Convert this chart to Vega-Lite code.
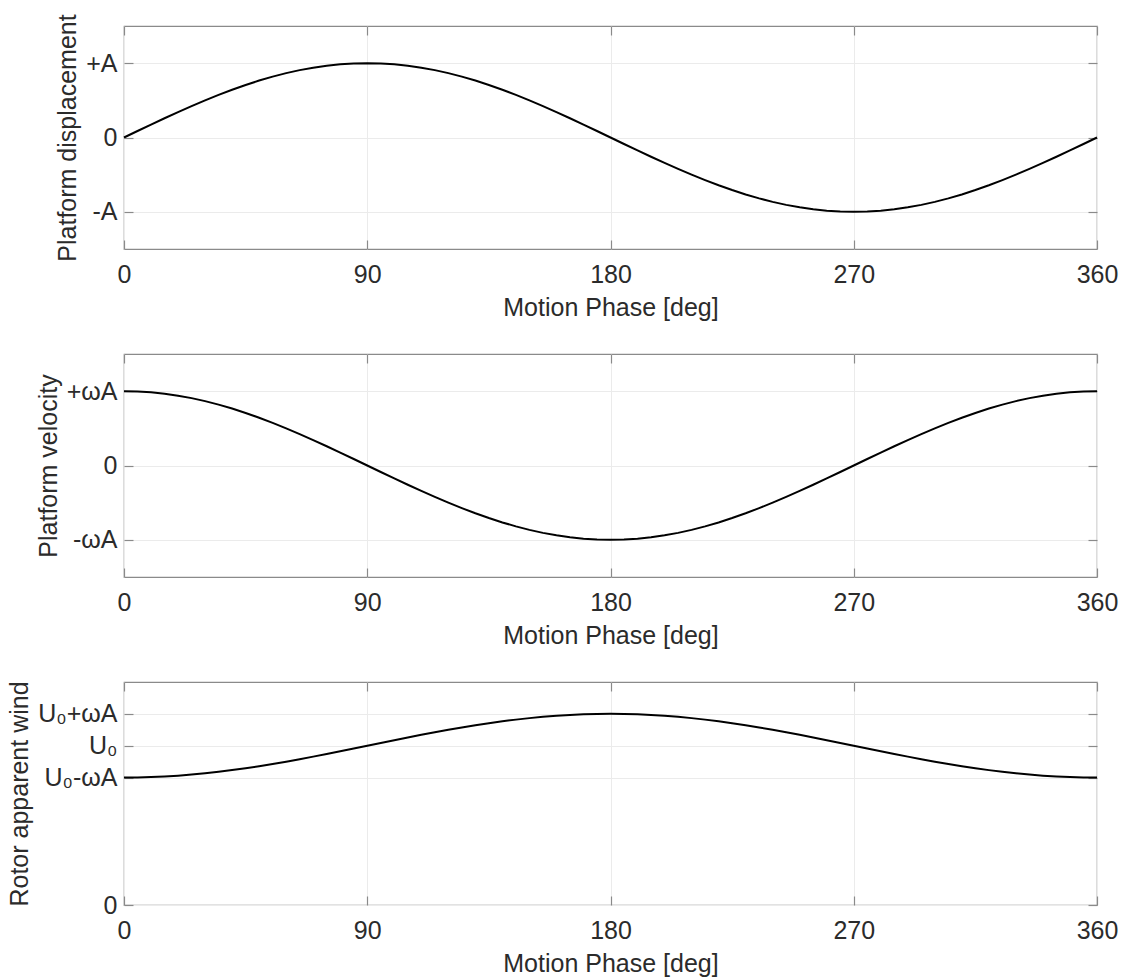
{
  "$schema": "https://vega.github.io/schema/vega-lite/v6.json",
  "padding": {"left": 7, "top": 13, "right": 23, "bottom": 0},
  "spacing": 31,
  "config": {
    "font": "Liberation Sans",
    "view": {"stroke": "#8a8a8a", "strokeWidth": 1.2},
    "axis": {
      "labelFont": "Liberation Sans",
      "labelFontSize": 25,
      "labelColor": "#2b2b2b",
      "titleFont": "Liberation Sans",
      "titleFontSize": 25,
      "titleFontWeight": "normal",
      "titleColor": "#2b2b2b",
      "gridColor": "#ebebeb",
      "gridWidth": 1,
      "tickColor": "#8a8a8a",
      "tickWidth": 1.2,
      "tickSize": -9,
      "domain": false
    }
  },
  "datasets": {
    "s": [
      {"p": 0, "d": 0, "v": 1, "w": 0.8},
      {"p": 5, "d": 0.0872, "v": 0.9962, "w": 0.8008},
      {"p": 10, "d": 0.1736, "v": 0.9848, "w": 0.803},
      {"p": 15, "d": 0.2588, "v": 0.9659, "w": 0.8068},
      {"p": 20, "d": 0.342, "v": 0.9397, "w": 0.8121},
      {"p": 25, "d": 0.4226, "v": 0.9063, "w": 0.8187},
      {"p": 30, "d": 0.5, "v": 0.866, "w": 0.8268},
      {"p": 35, "d": 0.5736, "v": 0.8192, "w": 0.8362},
      {"p": 40, "d": 0.6428, "v": 0.766, "w": 0.8468},
      {"p": 45, "d": 0.7071, "v": 0.7071, "w": 0.8586},
      {"p": 50, "d": 0.766, "v": 0.6428, "w": 0.8714},
      {"p": 55, "d": 0.8192, "v": 0.5736, "w": 0.8853},
      {"p": 60, "d": 0.866, "v": 0.5, "w": 0.9},
      {"p": 65, "d": 0.9063, "v": 0.4226, "w": 0.9155},
      {"p": 70, "d": 0.9397, "v": 0.342, "w": 0.9316},
      {"p": 75, "d": 0.9659, "v": 0.2588, "w": 0.9482},
      {"p": 80, "d": 0.9848, "v": 0.1736, "w": 0.9653},
      {"p": 85, "d": 0.9962, "v": 0.0872, "w": 0.9826},
      {"p": 90, "d": 1, "v": 0, "w": 1},
      {"p": 95, "d": 0.9962, "v": -0.0872, "w": 1.0174},
      {"p": 100, "d": 0.9848, "v": -0.1736, "w": 1.0347},
      {"p": 105, "d": 0.9659, "v": -0.2588, "w": 1.0518},
      {"p": 110, "d": 0.9397, "v": -0.342, "w": 1.0684},
      {"p": 115, "d": 0.9063, "v": -0.4226, "w": 1.0845},
      {"p": 120, "d": 0.866, "v": -0.5, "w": 1.1},
      {"p": 125, "d": 0.8192, "v": -0.5736, "w": 1.1147},
      {"p": 130, "d": 0.766, "v": -0.6428, "w": 1.1286},
      {"p": 135, "d": 0.7071, "v": -0.7071, "w": 1.1414},
      {"p": 140, "d": 0.6428, "v": -0.766, "w": 1.1532},
      {"p": 145, "d": 0.5736, "v": -0.8192, "w": 1.1638},
      {"p": 150, "d": 0.5, "v": -0.866, "w": 1.1732},
      {"p": 155, "d": 0.4226, "v": -0.9063, "w": 1.1813},
      {"p": 160, "d": 0.342, "v": -0.9397, "w": 1.1879},
      {"p": 165, "d": 0.2588, "v": -0.9659, "w": 1.1932},
      {"p": 170, "d": 0.1736, "v": -0.9848, "w": 1.197},
      {"p": 175, "d": 0.0872, "v": -0.9962, "w": 1.1992},
      {"p": 180, "d": 0, "v": -1, "w": 1.2},
      {"p": 185, "d": -0.0872, "v": -0.9962, "w": 1.1992},
      {"p": 190, "d": -0.1736, "v": -0.9848, "w": 1.197},
      {"p": 195, "d": -0.2588, "v": -0.9659, "w": 1.1932},
      {"p": 200, "d": -0.342, "v": -0.9397, "w": 1.1879},
      {"p": 205, "d": -0.4226, "v": -0.9063, "w": 1.1813},
      {"p": 210, "d": -0.5, "v": -0.866, "w": 1.1732},
      {"p": 215, "d": -0.5736, "v": -0.8192, "w": 1.1638},
      {"p": 220, "d": -0.6428, "v": -0.766, "w": 1.1532},
      {"p": 225, "d": -0.7071, "v": -0.7071, "w": 1.1414},
      {"p": 230, "d": -0.766, "v": -0.6428, "w": 1.1286},
      {"p": 235, "d": -0.8192, "v": -0.5736, "w": 1.1147},
      {"p": 240, "d": -0.866, "v": -0.5, "w": 1.1},
      {"p": 245, "d": -0.9063, "v": -0.4226, "w": 1.0845},
      {"p": 250, "d": -0.9397, "v": -0.342, "w": 1.0684},
      {"p": 255, "d": -0.9659, "v": -0.2588, "w": 1.0518},
      {"p": 260, "d": -0.9848, "v": -0.1736, "w": 1.0347},
      {"p": 265, "d": -0.9962, "v": -0.0872, "w": 1.0174},
      {"p": 270, "d": -1, "v": 0, "w": 1},
      {"p": 275, "d": -0.9962, "v": 0.0872, "w": 0.9826},
      {"p": 280, "d": -0.9848, "v": 0.1736, "w": 0.9653},
      {"p": 285, "d": -0.9659, "v": 0.2588, "w": 0.9482},
      {"p": 290, "d": -0.9397, "v": 0.342, "w": 0.9316},
      {"p": 295, "d": -0.9063, "v": 0.4226, "w": 0.9155},
      {"p": 300, "d": -0.866, "v": 0.5, "w": 0.9},
      {"p": 305, "d": -0.8192, "v": 0.5736, "w": 0.8853},
      {"p": 310, "d": -0.766, "v": 0.6428, "w": 0.8714},
      {"p": 315, "d": -0.7071, "v": 0.7071, "w": 0.8586},
      {"p": 320, "d": -0.6428, "v": 0.766, "w": 0.8468},
      {"p": 325, "d": -0.5736, "v": 0.8192, "w": 0.8362},
      {"p": 330, "d": -0.5, "v": 0.866, "w": 0.8268},
      {"p": 335, "d": -0.4226, "v": 0.9063, "w": 0.8187},
      {"p": 340, "d": -0.342, "v": 0.9397, "w": 0.8121},
      {"p": 345, "d": -0.2588, "v": 0.9659, "w": 0.8068},
      {"p": 350, "d": -0.1736, "v": 0.9848, "w": 0.803},
      {"p": 355, "d": -0.0872, "v": 0.9962, "w": 0.8008},
      {"p": 360, "d": 0, "v": 1, "w": 0.8}
    ]
  },
  "vconcat": [
    {
      "width": 973,
      "height": 223,
      "data": {"name": "s"},
      "layer": [
        {
          "mark": {"type": "line", "color": "#000000", "strokeWidth": 2},
          "encoding": {
            "x": {"field": "p", "type": "quantitative", "scale": {"domain": [0, 360], "nice": false},
                  "axis": {"values": [0, 90, 180, 270, 360], "title": "Motion Phase [deg]", "grid": true, "labelPadding": 22, "titlePadding": 8, "labelFlush": false, "labelAngle": 0}},
            "y": {"field": "d", "type": "quantitative", "scale": {"domain": [-1.5, 1.5], "nice": false, "zero": false},
                  "axis": {"values": [-1, 0, 1], "title": "Platform displacement", "grid": true, "labelPadding": 16, "titlePadding": 5,
                           "labelExpr": "datum.value > 0 ? '+A' : datum.value < 0 ? '-A' : '0'"}}
          }
        },
        {
          "mark": {"type": "line", "opacity": 0},
          "encoding": {
            "x": {"field": "p", "type": "quantitative", "axis": {"orient": "top", "values": [0, 90, 180, 270, 360], "labels": false, "title": null, "grid": false}},
            "y": {"field": "d", "type": "quantitative", "axis": {"orient": "right", "values": [-1, 0, 1], "labels": false, "title": null, "grid": false}}
          }
        }
      ],
      "resolve": {"axis": {"x": "independent", "y": "independent"}}
    },
    {
      "width": 973,
      "height": 223,
      "data": {"name": "s"},
      "layer": [
        {
          "mark": {"type": "line", "color": "#000000", "strokeWidth": 2},
          "encoding": {
            "x": {"field": "p", "type": "quantitative", "scale": {"domain": [0, 360], "nice": false},
                  "axis": {"values": [0, 90, 180, 270, 360], "title": "Motion Phase [deg]", "grid": true, "labelPadding": 22, "titlePadding": 8, "labelFlush": false, "labelAngle": 0}},
            "y": {"field": "v", "type": "quantitative", "scale": {"domain": [-1.5, 1.5], "nice": false, "zero": false},
                  "axis": {"values": [-1, 0, 1], "title": "Platform velocity", "grid": true, "labelPadding": 16, "titlePadding": 5,
                           "labelExpr": "datum.value > 0 ? '+ωA' : datum.value < 0 ? '-ωA' : '0'"}}
          }
        },
        {
          "mark": {"type": "line", "opacity": 0},
          "encoding": {
            "x": {"field": "p", "type": "quantitative", "axis": {"orient": "top", "values": [0, 90, 180, 270, 360], "labels": false, "title": null, "grid": false}},
            "y": {"field": "v", "type": "quantitative", "axis": {"orient": "right", "values": [-1, 0, 1], "labels": false, "title": null, "grid": false}}
          }
        }
      ],
      "resolve": {"axis": {"x": "independent", "y": "independent"}}
    },
    {
      "width": 973,
      "height": 223,
      "data": {"name": "s"},
      "layer": [
        {
          "mark": {"type": "line", "color": "#000000", "strokeWidth": 2},
          "encoding": {
            "x": {"field": "p", "type": "quantitative", "scale": {"domain": [0, 360], "nice": false},
                  "axis": {"values": [0, 90, 180, 270, 360], "title": "Motion Phase [deg]", "grid": true, "labelPadding": 22, "titlePadding": 8, "labelFlush": false, "labelAngle": 0}},
            "y": {"field": "w", "type": "quantitative", "scale": {"domain": [0, 1.4], "nice": false, "zero": false},
                  "axis": {"values": [0, 0.8, 1, 1.2], "title": "Rotor apparent wind", "grid": true, "labelPadding": 16, "titlePadding": 5,
                           "labelExpr": "datum.value == 0 ? '0' : datum.value < 0.9 ? 'U₀-ωA' : datum.value < 1.1 ? 'U₀' : 'U₀+ωA'"}}
          }
        },
        {
          "mark": {"type": "line", "opacity": 0},
          "encoding": {
            "x": {"field": "p", "type": "quantitative", "axis": {"orient": "top", "values": [0, 90, 180, 270, 360], "labels": false, "title": null, "grid": false}},
            "y": {"field": "w", "type": "quantitative", "axis": {"orient": "right", "values": [0, 0.8, 1, 1.2], "labels": false, "title": null, "grid": false}}
          }
        }
      ],
      "resolve": {"axis": {"x": "independent", "y": "independent"}}
    }
  ]
}
